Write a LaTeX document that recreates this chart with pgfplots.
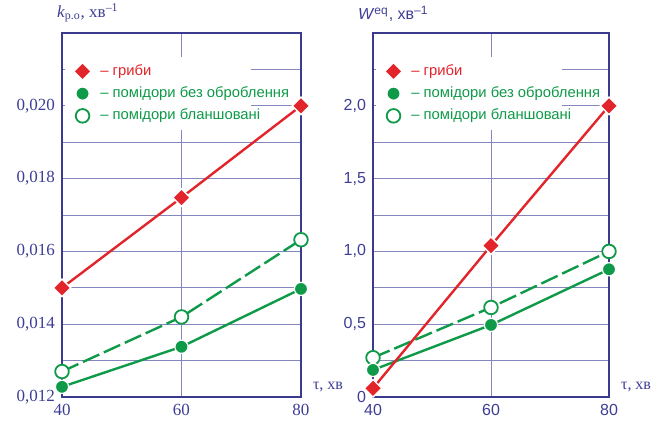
\documentclass[border=0pt]{standalone}
\usepackage{fontspec}
\setmainfont{Liberation Sans}
\newfontfamily\serif{Liberation Serif}
\usepackage{pgfplots}
\pgfplotsset{compat=1.18}
\definecolor{ax}{HTML}{3A3A8E}
\definecolor{gr}{HTML}{8686BE}
\definecolor{myred}{HTML}{E2242B}
\definecolor{mygreen}{HTML}{0E9A48}
\definecolor{tk}{HTML}{3D3D96}
\newcommand{\lt}[1]{\hspace*{2.5pt}\makebox[69pt][l]{#1}}
\pgfplotsset{
  common/.style={
    scale only axis, height=182pt,
    xmin=40, xmax=80, xtick={40,60,80},
    grid=both,
    major grid style={gr, line width=0.5pt},
    minor grid style={gr, line width=0.5pt},
    axis line style={ax, line width=1pt},
    tick style={draw=none},
    ticklabel style={tk},
    scaled y ticks=false,
    /pgf/number format/assume math mode=true,
    legend style={draw=none, fill=white, at={(rel axis cs:0.01,0.934)}, anchor=north west,
      font=\fontsize{7.4}{8.5}\selectfont, row sep=0.2pt, inner xsep=4.5pt, inner ysep=1.5pt,
      cells={anchor=west}},
    legend cell align=left,
    every axis x label/.style={at={(rel axis cs:1,0)}, anchor=west, xshift=2.5pt, yshift=5pt},
    every axis y label/.style={at={(rel axis cs:0,1)}, anchor=south west},
  },
  dmk/.style={mark=square*, mark options={solid, rotate=45, fill=myred, draw=white, line width=0.7pt}, mark size=3.1pt},
  fmk/.style={mark=*, mark options={solid, fill=mygreen, draw=white, line width=0.6pt}, mark size=3.3pt},
  omk/.style={mark=*, mark options={solid, fill=white, draw=mygreen, line width=0.9pt}, mark size=3.4pt},
  redl/.style={myred, line width=1.2pt, dmk},
  grf/.style={mygreen, line width=1.2pt, fmk},
  gro/.style={mygreen, line width=1.2pt, dash pattern=on 9pt off 2.5pt, omk},
}
\begin{document}
\begin{tikzpicture}
\useasboundingbox (0,0) rectangle (326pt,212.5pt);
% left axis
\begin{axis}[common,
  at={(31pt,14pt)}, anchor=south west, width=119.5pt,
  ymin=0.012, ymax=0.022,
  ytick={0.012,0.014,0.016,0.018,0.020},
  yticklabels={{0,012},{0,014},{0,016},{0,018},{0,020}},
  minor ytick={0.013,0.015,0.017,0.019,0.021},
  ticklabel style={font=\serif\fontsize{8.5}{10}\selectfont},
  xlabel={\serif\fontsize{8}{10}\selectfont\textcolor{tk}{τ, хв}},
  ylabel={\serif\fontsize{8.5}{10}\selectfont\textcolor{tk}{\textit{k}\textsubscript{р.о}, хв\textsuperscript{–1}}},
  ylabel style={xshift=-6pt, yshift=2pt},
]
\addlegendimage{only marks, dmk}
\addlegendentry{\lt{\textcolor{myred}{– гриби}}}
\addlegendimage{only marks, fmk}
\addlegendentry{\lt{\textcolor{mygreen}{– помідори без оброблення}}}
\addlegendimage{only marks, omk}
\addlegendentry{\lt{\textcolor{mygreen}{– помідори бланшовані}}}
\addplot[gro, forget plot] coordinates {(40,0.0127) (60,0.0142) (80,0.01632)};
\addplot[grf, forget plot] coordinates {(40,0.01228) (60,0.01338) (80,0.01497)};
\addplot[redl, forget plot] coordinates {(40,0.0150) (60,0.01748) (80,0.0200)};
\end{axis}
% right axis
\begin{axis}[common,
  at={(186.5pt,14pt)}, anchor=south west, width=118pt,
  ymin=0, ymax=2.5,
  ytick={0,0.5,1,1.5,2},
  yticklabels={0,{0,5},{1,0},{1,5},{2,0}},
  minor ytick={0.25,0.75,1.25,1.75,2.25},
  ticklabel style={font=\fontsize{8}{10}\selectfont},
  xlabel={\serif\fontsize{8}{10}\selectfont\textcolor{tk}{τ, хв}},
  ylabel={\fontsize{8}{10}\selectfont\textcolor{tk}{\textit{W}\textsuperscript{eq}, хв\textsuperscript{–1}}},
  ylabel style={xshift=-11pt, yshift=2pt},
]
\addlegendimage{only marks, dmk}
\addlegendentry{\lt{\textcolor{myred}{– гриби}}}
\addlegendimage{only marks, fmk}
\addlegendentry{\lt{\textcolor{mygreen}{– помідори без оброблення}}}
\addlegendimage{only marks, omk}
\addlegendentry{\lt{\textcolor{mygreen}{– помідори бланшовані}}}
\addplot[gro, forget plot] coordinates {(40,0.27) (60,0.615) (80,1.0)};
\addplot[grf, forget plot] coordinates {(40,0.186) (60,0.495) (80,0.877)};
\addplot[redl, forget plot] coordinates {(40,0.06) (60,1.04) (80,2.0)};
\end{axis}
\end{tikzpicture}
\end{document}
